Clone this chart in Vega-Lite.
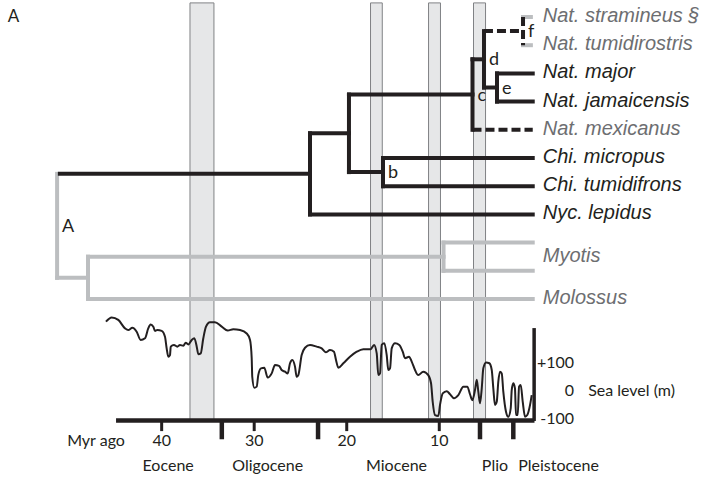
{
  "$schema": "https://vega.github.io/schema/vega-lite/v6.json",
  "width": 713,
  "height": 480,
  "autosize": {"type": "fit", "contains": "padding"},
  "padding": 0,
  "background": "white",
  "config": {"view": {"stroke": null}},
  "datasets": {
    "bars": [
      {"start": 36.94, "end": 34.35},
      {"start": 17.43, "end": 16.16},
      {"start": 11.16, "end": 9.87},
      {"start": 6.30, "end": 5.00}
    ],
    "tree": [
      {"t1": 51.0, "t2": 23.97, "r1": 5.5625, "r2": 5.5625, "group": "ingroup"},
      {"t1": 23.97, "t2": 23.97, "r1": 4.125, "r2": 7, "group": "ingroup"},
      {"t1": 23.97, "t2": -0.1, "r1": 7, "r2": 7, "group": "ingroup"},
      {"t1": 23.97, "t2": 19.76, "r1": 4.125, "r2": 4.125, "group": "ingroup"},
      {"t1": 19.76, "t2": 19.76, "r1": 2.75, "r2": 5.5, "group": "ingroup"},
      {"t1": 19.76, "t2": 16.08, "r1": 5.5, "r2": 5.5, "group": "ingroup"},
      {"t1": 16.08, "t2": 16.08, "r1": 5, "r2": 6, "group": "ingroup"},
      {"t1": 16.08, "t2": -0.1, "r1": 5, "r2": 5, "group": "ingroup"},
      {"t1": 16.08, "t2": -0.1, "r1": 6, "r2": 6, "group": "ingroup"},
      {"t1": 19.76, "t2": 6.41, "r1": 2.75, "r2": 2.75, "group": "ingroup"},
      {"t1": 6.41, "t2": 6.41, "r1": 1.5, "r2": 4, "group": "ingroup"},
      {"t1": 6.41, "t2": 5.17, "r1": 1.5, "r2": 1.5, "group": "ingroup"},
      {"t1": 5.17, "t2": 5.17, "r1": 0.5, "r2": 2.5, "group": "ingroup"},
      {"t1": 5.17, "t2": 3.76, "r1": 2.5, "r2": 2.5, "group": "ingroup"},
      {"t1": 3.76, "t2": 3.76, "r1": 2, "r2": 3, "group": "ingroup"},
      {"t1": 3.76, "t2": -0.1, "r1": 2, "r2": 2, "group": "ingroup"},
      {"t1": 3.76, "t2": -0.1, "r1": 3, "r2": 3, "group": "ingroup"},
      {"t1": 6.41, "t2": -0.1, "r1": 4, "r2": 4, "group": "uncertain"},
      {"t1": 5.17, "t2": 0.95, "r1": 0.5, "r2": 0.5, "group": "uncertain"},
      {"t1": 0.95, "t2": 0.95, "r1": 0, "r2": 1, "group": "uncertain"},
      {"t1": 51.3, "t2": 51.3, "r1": 5.5625, "r2": 9.25, "group": "outgroup"},
      {"t1": 51.3, "t2": 47.96, "r1": 9.25, "r2": 9.25, "group": "outgroup"},
      {"t1": 47.96, "t2": 47.96, "r1": 8.5, "r2": 10, "group": "outgroup"},
      {"t1": 47.96, "t2": -0.1, "r1": 10, "r2": 10, "group": "outgroup"},
      {"t1": 47.96, "t2": 9.54, "r1": 8.5, "r2": 8.5, "group": "outgroup"},
      {"t1": 9.54, "t2": 9.54, "r1": 8, "r2": 9, "group": "outgroup"},
      {"t1": 9.54, "t2": -0.1, "r1": 8, "r2": 8, "group": "outgroup"},
      {"t1": 9.54, "t2": -0.1, "r1": 9, "r2": 9, "group": "outgroup"},
      {"t1": 0.95, "t2": 0.1, "r1": 0, "r2": 0, "group": "outgroup"},
      {"t1": 0.95, "t2": 0.1, "r1": 1, "r2": 1, "group": "outgroup"}
    ],
    "tips": [
      {"name": "Nat. stramineus §", "row": 0, "grp": "g"},
      {"name": "Nat. tumidirostris", "row": 1, "grp": "g"},
      {"name": "Nat. major", "row": 2, "grp": "k"},
      {"name": "Nat. jamaicensis", "row": 3, "grp": "k"},
      {"name": "Nat. mexicanus", "row": 4, "grp": "g"},
      {"name": "Chi. micropus", "row": 5, "grp": "k"},
      {"name": "Chi. tumidifrons", "row": 6, "grp": "k"},
      {"name": "Nyc. lepidus", "row": 7, "grp": "k"},
      {"name": "Myotis", "row": 8.5, "grp": "g"},
      {"name": "Molossus", "row": 10, "grp": "g"}
    ],
    "nodes": [
      {"label": "b", "t": 16.08, "row": 5.5},
      {"label": "c", "t": 6.41, "row": 2.75},
      {"label": "d", "t": 5.17, "row": 1.5},
      {"label": "e", "t": 3.76, "row": 2.5},
      {"label": "f", "t": 0.95, "row": 0.5},
      {"label": "A", "t": 51.3, "row": 7.406}
    ],
    "sea": [
      {"t": 46.02, "m": 246}, {"t": 45.40, "m": 261}, {"t": 44.69, "m": 252}, {"t": 43.96, "m": 222},
      {"t": 43.61, "m": 216}, {"t": 43.17, "m": 224}, {"t": 42.70, "m": 210}, {"t": 42.27, "m": 181},
      {"t": 41.80, "m": 187}, {"t": 41.45, "m": 222}, {"t": 41.19, "m": 236}, {"t": 40.90, "m": 228},
      {"t": 40.72, "m": 213}, {"t": 40.47, "m": 216}, {"t": 40.00, "m": 213}, {"t": 39.64, "m": 192},
      {"t": 39.46, "m": 151}, {"t": 39.28, "m": 121}, {"t": 39.10, "m": 127}, {"t": 39.02, "m": 157},
      {"t": 38.67, "m": 163}, {"t": 38.31, "m": 157}, {"t": 38.02, "m": 163}, {"t": 37.66, "m": 160},
      {"t": 37.40, "m": 171}, {"t": 37.12, "m": 165}, {"t": 36.75, "m": 181}, {"t": 36.47, "m": 187},
      {"t": 36.21, "m": 157}, {"t": 36.04, "m": 130}, {"t": 35.78, "m": 133}, {"t": 35.50, "m": 187},
      {"t": 35.21, "m": 228}, {"t": 34.78, "m": 244}, {"t": 34.24, "m": 244}, {"t": 33.51, "m": 228},
      {"t": 32.86, "m": 214}, {"t": 32.26, "m": 219}, {"t": 31.53, "m": 216}, {"t": 30.81, "m": 204},
      {"t": 30.45, "m": 181}, {"t": 30.27, "m": 116}, {"t": 30.21, "m": 50}, {"t": 29.99, "m": 11},
      {"t": 29.73, "m": 15}, {"t": 29.56, "m": 56}, {"t": 29.27, "m": 80}, {"t": 28.91, "m": 82},
      {"t": 28.54, "m": 47}, {"t": 28.11, "m": 62}, {"t": 27.75, "m": 92}, {"t": 27.32, "m": 89},
      {"t": 27.03, "m": 74}, {"t": 26.67, "m": 68}, {"t": 26.38, "m": 62}, {"t": 26.13, "m": 98},
      {"t": 25.88, "m": 110}, {"t": 25.59, "m": 86}, {"t": 25.41, "m": 50}, {"t": 25.23, "m": 56},
      {"t": 24.87, "m": 127}, {"t": 24.51, "m": 153}, {"t": 23.97, "m": 163}, {"t": 23.25, "m": 157},
      {"t": 22.71, "m": 151}, {"t": 22.27, "m": 137}, {"t": 21.81, "m": 145}, {"t": 21.38, "m": 139},
      {"t": 21.16, "m": 110}, {"t": 20.91, "m": 82}, {"t": 20.37, "m": 98}, {"t": 19.65, "m": 121},
      {"t": 18.92, "m": 139}, {"t": 18.21, "m": 148}, {"t": 17.41, "m": 148}, {"t": 17.05, "m": 163},
      {"t": 16.76, "m": 133}, {"t": 16.59, "m": 56}, {"t": 16.40, "m": 62}, {"t": 16.22, "m": 163},
      {"t": 15.94, "m": 169}, {"t": 15.68, "m": 127}, {"t": 15.51, "m": 74}, {"t": 15.32, "m": 80},
      {"t": 15.14, "m": 151}, {"t": 14.78, "m": 169}, {"t": 14.32, "m": 163}, {"t": 13.95, "m": 139},
      {"t": 13.70, "m": 116}, {"t": 13.27, "m": 121}, {"t": 12.98, "m": 104}, {"t": 12.62, "m": 74},
      {"t": 12.27, "m": 56}, {"t": 11.73, "m": 68}, {"t": 11.19, "m": 56}, {"t": 10.89, "m": 27},
      {"t": 10.71, "m": -39}, {"t": 10.46, "m": -86}, {"t": 10.10, "m": -89}, {"t": 9.92, "m": -50},
      {"t": 9.63, "m": -9}, {"t": 9.20, "m": -1}, {"t": 8.84, "m": -12}, {"t": 8.41, "m": -26},
      {"t": 7.94, "m": -15}, {"t": 7.40, "m": 15}, {"t": 6.97, "m": 15}, {"t": 6.68, "m": -12},
      {"t": 6.43, "m": -33}, {"t": 6.14, "m": 3}, {"t": 5.95, "m": 39}, {"t": 5.78, "m": -3},
      {"t": 5.60, "m": -44}, {"t": 5.41, "m": 9}, {"t": 5.24, "m": 80}, {"t": 4.95, "m": 101},
      {"t": 4.59, "m": 98}, {"t": 4.33, "m": 74}, {"t": 4.16, "m": 9}, {"t": 3.98, "m": -50},
      {"t": 3.79, "m": -39}, {"t": 3.62, "m": 33}, {"t": 3.44, "m": 68}, {"t": 3.25, "m": 62},
      {"t": 3.08, "m": -3}, {"t": 2.79, "m": -74}, {"t": 2.54, "m": -92}, {"t": 2.28, "m": -62},
      {"t": 2.17, "m": 3}, {"t": 2.00, "m": 27}, {"t": 1.82, "m": 9}, {"t": 1.71, "m": -86},
      {"t": 1.52, "m": -86}, {"t": 1.38, "m": 15}, {"t": 1.20, "m": 21}, {"t": 0.98, "m": -39},
      {"t": 0.73, "m": -92}, {"t": 0.49, "m": -86}, {"t": 0.19, "m": -50}, {"t": 0.01, "m": -15}
    ],
    "ticks": [
      {"t": 40, "label": "40"}, {"t": 30, "label": "30"}, {"t": 20, "label": "20"}, {"t": 10, "label": "10"}
    ],
    "boundaries": [{"t": 33.5}, {"t": 23.1}, {"t": 5.6}, {"t": 2.0}],
    "epochs": [
      {"name": "Eocene", "t": 39.3},
      {"name": "Oligocene", "t": 28.54},
      {"name": "Miocene", "t": 14.62},
      {"name": "Plio", "t": 3.98},
      {"name": "Pleistocene", "t": -2.89}
    ],
    "sealevels": [
      {"m": 100, "label": "+100"}, {"m": 0, "label": "0"}, {"m": -100, "label": "-100"}
    ]
  },
  "layer": [
    {
      "layer": [
        {
          "data": {"name": "bars"},
          "mark": {"type": "rect", "fill": "#e6e7e8", "stroke": "#808285", "strokeWidth": 1},
          "encoding": {
            "x": {"field": "start", "type": "quantitative", "scale": {"domain": [57.47, -19.58], "nice": false, "zero": false}, "axis": null},
            "x2": {"field": "end"},
            "y": {"datum": -0.5, "type": "quantitative", "scale": {"domain": [16.418, -0.603], "nice": false, "zero": false}, "axis": null},
            "y2": {"datum": 14.3}
          }
        },
        {
          "data": {"name": "tree"},
          "transform": [{"filter": "datum.group === 'outgroup'"}],
          "mark": {"type": "rule", "color": "#bcbec0", "strokeWidth": 4, "strokeCap": "square"},
          "encoding": {
            "x": {"field": "t1", "type": "quantitative", "scale": {"domain": [57.47, -19.58], "nice": false, "zero": false}, "axis": null},
            "x2": {"field": "t2"},
            "y": {"field": "r1", "type": "quantitative", "scale": {"domain": [16.418, -0.603], "nice": false, "zero": false}, "axis": null},
            "y2": {"field": "r2"}
          }
        },
        {
          "data": {"name": "tree"},
          "transform": [{"filter": "datum.group === 'ingroup'"}],
          "mark": {"type": "rule", "color": "#231f20", "strokeWidth": 4, "strokeCap": "square"},
          "encoding": {
            "x": {"field": "t1", "type": "quantitative", "scale": {"domain": [57.47, -19.58], "nice": false, "zero": false}, "axis": null},
            "x2": {"field": "t2"},
            "y": {"field": "r1", "type": "quantitative", "scale": {"domain": [16.418, -0.603], "nice": false, "zero": false}, "axis": null},
            "y2": {"field": "r2"}
          }
        },
        {
          "data": {"name": "tree"},
          "transform": [{"filter": "datum.group === 'uncertain'"}],
          "mark": {"type": "rule", "color": "#231f20", "strokeWidth": 4, "strokeCap": "butt", "strokeDash": [9, 4]},
          "encoding": {
            "x": {"field": "t1", "type": "quantitative", "scale": {"domain": [57.47, -19.58], "nice": false, "zero": false}, "axis": null},
            "x2": {"field": "t2"},
            "y": {"field": "r1", "type": "quantitative", "scale": {"domain": [16.418, -0.603], "nice": false, "zero": false}, "axis": null},
            "y2": {"field": "r2"}
          }
        },
        {
          "data": {"name": "tips"},
          "mark": {"type": "text", "align": "left", "baseline": "middle", "dx": 10, "dy": -1, "font": "Liberation Sans", "fontStyle": "italic", "fontSize": 20},
          "encoding": {
            "x": {"datum": -0.1, "type": "quantitative", "scale": {"domain": [57.47, -19.58], "nice": false, "zero": false}, "axis": null},
            "y": {"field": "row", "type": "quantitative", "scale": {"domain": [16.418, -0.603], "nice": false, "zero": false}, "axis": null},
            "text": {"field": "name"},
            "color": {"condition": {"test": "datum.grp === 'g'", "value": "#6d6e71"}, "value": "#231f20"}
          }
        },
        {
          "data": {"name": "nodes"},
          "mark": {"type": "text", "align": "left", "baseline": "middle", "dx": 5, "dy": 1, "font": "Lato", "fontSize": 18, "color": "#231f20"},
          "encoding": {
            "x": {"field": "t", "type": "quantitative", "scale": {"domain": [57.47, -19.58], "nice": false, "zero": false}, "axis": null},
            "y": {"field": "row", "type": "quantitative", "scale": {"domain": [16.418, -0.603], "nice": false, "zero": false}, "axis": null},
            "text": {"field": "label"}
          }
        },
        {
          "data": {"values": [{"panel": "A"}]},
          "mark": {"type": "text", "align": "center", "baseline": "middle", "font": "Lato", "fontSize": 17, "color": "#231f20"},
          "encoding": {
            "x": {"datum": 56.0, "type": "quantitative", "scale": {"domain": [57.47, -19.58], "nice": false, "zero": false}, "axis": null},
            "y": {"datum": 0, "type": "quantitative", "scale": {"domain": [16.418, -0.603], "nice": false, "zero": false}, "axis": null},
            "text": {"field": "panel"}
          }
        }
      ]
    },
    {
      "layer": [
        {
          "data": {"name": "sea"},
          "mark": {"type": "line", "color": "#231f20", "strokeWidth": 2, "interpolate": "monotone"},
          "encoding": {
            "x": {"field": "t", "type": "quantitative", "scale": {"domain": [57.47, -19.58], "nice": false, "zero": false}, "axis": null},
            "y": {"field": "m", "type": "quantitative", "scale": {"domain": [-316.7, 1388.5], "nice": false, "zero": false}, "axis": null}
          }
        },
        {
          "data": {"values": [{"axis": "time"}]},
          "mark": {"type": "rule", "color": "#231f20", "strokeWidth": 4.5},
          "encoding": {
            "x": {"datum": 44.93, "type": "quantitative", "scale": {"domain": [57.47, -19.58], "nice": false, "zero": false}, "axis": null},
            "x2": {"datum": -0.29},
            "y": {"datum": -105, "type": "quantitative", "scale": {"domain": [-316.7, 1388.5], "nice": false, "zero": false}, "axis": null}
          }
        },
        {
          "data": {"name": "ticks"},
          "mark": {"type": "rule", "color": "#231f20", "strokeWidth": 3},
          "encoding": {
            "x": {"field": "t", "type": "quantitative", "scale": {"domain": [57.47, -19.58], "nice": false, "zero": false}, "axis": null},
            "y": {"datum": -105, "type": "quantitative", "scale": {"domain": [-316.7, 1388.5], "nice": false, "zero": false}, "axis": null},
            "y2": {"datum": -143}
          }
        },
        {
          "data": {"name": "boundaries"},
          "mark": {"type": "rule", "color": "#231f20", "strokeWidth": 4.5},
          "encoding": {
            "x": {"field": "t", "type": "quantitative", "scale": {"domain": [57.47, -19.58], "nice": false, "zero": false}, "axis": null},
            "y": {"datum": -105, "type": "quantitative", "scale": {"domain": [-316.7, 1388.5], "nice": false, "zero": false}, "axis": null},
            "y2": {"datum": -172}
          }
        },
        {
          "data": {"name": "ticks"},
          "mark": {"type": "text", "align": "center", "baseline": "middle", "dy": 21, "font": "Lato", "fontSize": 16, "color": "#231f20"},
          "encoding": {
            "x": {"field": "t", "type": "quantitative", "scale": {"domain": [57.47, -19.58], "nice": false, "zero": false}, "axis": null},
            "y": {"datum": -105, "type": "quantitative", "scale": {"domain": [-316.7, 1388.5], "nice": false, "zero": false}, "axis": null},
            "text": {"field": "label"}
          }
        },
        {
          "data": {"values": [{"title": "Myr ago"}]},
          "mark": {"type": "text", "align": "center", "baseline": "middle", "dy": 21, "font": "Lato", "fontSize": 16, "color": "#231f20"},
          "encoding": {
            "x": {"datum": 47.09, "type": "quantitative", "scale": {"domain": [57.47, -19.58], "nice": false, "zero": false}, "axis": null},
            "y": {"datum": -105, "type": "quantitative", "scale": {"domain": [-316.7, 1388.5], "nice": false, "zero": false}, "axis": null},
            "text": {"field": "title"}
          }
        },
        {
          "data": {"name": "epochs"},
          "mark": {"type": "text", "align": "center", "baseline": "middle", "dy": 46, "font": "Lato", "fontSize": 16, "color": "#231f20"},
          "encoding": {
            "x": {"field": "t", "type": "quantitative", "scale": {"domain": [57.47, -19.58], "nice": false, "zero": false}, "axis": null},
            "y": {"datum": -105, "type": "quantitative", "scale": {"domain": [-316.7, 1388.5], "nice": false, "zero": false}, "axis": null},
            "text": {"field": "name"}
          }
        },
        {
          "data": {"values": [{"axis": "sea"}]},
          "mark": {"type": "rule", "color": "#231f20", "strokeWidth": 3.5},
          "encoding": {
            "x": {"datum": -0.25, "type": "quantitative", "scale": {"domain": [57.47, -19.58], "nice": false, "zero": false}, "axis": null},
            "y": {"datum": -107, "type": "quantitative", "scale": {"domain": [-316.7, 1388.5], "nice": false, "zero": false}, "axis": null},
            "y2": {"datum": 223}
          }
        },
        {
          "data": {"name": "sealevels"},
          "mark": {"type": "text", "align": "right", "baseline": "middle", "dx": 40, "font": "Lato", "fontSize": 16, "color": "#231f20"},
          "encoding": {
            "x": {"datum": -0.25, "type": "quantitative", "scale": {"domain": [57.47, -19.58], "nice": false, "zero": false}, "axis": null},
            "y": {"field": "m", "type": "quantitative", "scale": {"domain": [-316.7, 1388.5], "nice": false, "zero": false}, "axis": null},
            "text": {"field": "label"}
          }
        },
        {
          "data": {"values": [{"title": "Sea level (m)"}]},
          "mark": {"type": "text", "align": "left", "baseline": "middle", "dx": 54, "font": "Lato", "fontSize": 16, "color": "#231f20"},
          "encoding": {
            "x": {"datum": -0.25, "type": "quantitative", "scale": {"domain": [57.47, -19.58], "nice": false, "zero": false}, "axis": null},
            "y": {"datum": 0, "type": "quantitative", "scale": {"domain": [-316.7, 1388.5], "nice": false, "zero": false}, "axis": null},
            "text": {"field": "title"}
          }
        }
      ]
    }
  ],
  "resolve": {"scale": {"y": "independent"}}
}
